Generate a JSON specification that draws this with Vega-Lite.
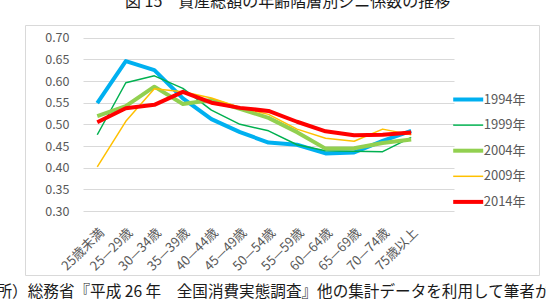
{
  "$schema": "https://vega.github.io/schema/vega-lite/v6.json",
  "width": 514,
  "height": 250,
  "autosize": {"type": "none"},
  "padding": {"left": 25, "top": 25, "right": 7, "bottom": 31},
  "background": "white",
  "config": {"view": {"stroke": "#d9d9d9", "strokeWidth": 1}},
  "title": {
    "text": "図 15　資産総額の年齢階層別ジニ係数の推移",
    "anchor": "start",
    "frame": "group",
    "dx": 100,
    "offset": 15,
    "font": "Noto Sans CJK JP",
    "fontSize": 16,
    "fontWeight": "normal",
    "color": "#1a1a1a"
  },
  "data": {
    "values": [
      {"year": "1994年", "age": "25歳未満", "gini": 0.549},
      {"year": "1994年", "age": "25—29歳", "gini": 0.646},
      {"year": "1994年", "age": "30—34歳", "gini": 0.625},
      {"year": "1994年", "age": "35—39歳", "gini": 0.560},
      {"year": "1994年", "age": "40—44歳", "gini": 0.512},
      {"year": "1994年", "age": "45—49歳", "gini": 0.482},
      {"year": "1994年", "age": "50—54歳", "gini": 0.458},
      {"year": "1994年", "age": "55—59歳", "gini": 0.453},
      {"year": "1994年", "age": "60—64歳", "gini": 0.433},
      {"year": "1994年", "age": "65—69歳", "gini": 0.435},
      {"year": "1994年", "age": "70—74歳", "gini": 0.462},
      {"year": "1994年", "age": "75歳以上", "gini": 0.485},
      {"year": "1999年", "age": "25歳未満", "gini": 0.476},
      {"year": "1999年", "age": "25—29歳", "gini": 0.596},
      {"year": "1999年", "age": "30—34歳", "gini": 0.612},
      {"year": "1999年", "age": "35—39歳", "gini": 0.583},
      {"year": "1999年", "age": "40—44歳", "gini": 0.533},
      {"year": "1999年", "age": "45—49歳", "gini": 0.500},
      {"year": "1999年", "age": "50—54歳", "gini": 0.485},
      {"year": "1999年", "age": "55—59歳", "gini": 0.453},
      {"year": "1999年", "age": "60—64歳", "gini": 0.439},
      {"year": "1999年", "age": "65—69歳", "gini": 0.438},
      {"year": "1999年", "age": "70—74歳", "gini": 0.437},
      {"year": "1999年", "age": "75歳以上", "gini": 0.470},
      {"year": "2004年", "age": "25歳未満", "gini": 0.519},
      {"year": "2004年", "age": "25—29歳", "gini": 0.542},
      {"year": "2004年", "age": "30—34歳", "gini": 0.587},
      {"year": "2004年", "age": "35—39歳", "gini": 0.547},
      {"year": "2004年", "age": "40—44歳", "gini": 0.556},
      {"year": "2004年", "age": "45—49歳", "gini": 0.536},
      {"year": "2004年", "age": "50—54歳", "gini": 0.515},
      {"year": "2004年", "age": "55—59歳", "gini": 0.482},
      {"year": "2004年", "age": "60—64歳", "gini": 0.444},
      {"year": "2004年", "age": "65—69歳", "gini": 0.445},
      {"year": "2004年", "age": "70—74歳", "gini": 0.457},
      {"year": "2004年", "age": "75歳以上", "gini": 0.465},
      {"year": "2009年", "age": "25歳未満", "gini": 0.402},
      {"year": "2009年", "age": "25—29歳", "gini": 0.507},
      {"year": "2009年", "age": "30—34歳", "gini": 0.582},
      {"year": "2009年", "age": "35—39歳", "gini": 0.575},
      {"year": "2009年", "age": "40—44歳", "gini": 0.561},
      {"year": "2009年", "age": "45—49歳", "gini": 0.539},
      {"year": "2009年", "age": "50—54歳", "gini": 0.523},
      {"year": "2009年", "age": "55—59歳", "gini": 0.489},
      {"year": "2009年", "age": "60—64歳", "gini": 0.468},
      {"year": "2009年", "age": "65—69歳", "gini": 0.461},
      {"year": "2009年", "age": "70—74歳", "gini": 0.489},
      {"year": "2009年", "age": "75歳以上", "gini": 0.476},
      {"year": "2014年", "age": "25歳未満", "gini": 0.505},
      {"year": "2014年", "age": "25—29歳", "gini": 0.537},
      {"year": "2014年", "age": "30—34歳", "gini": 0.545},
      {"year": "2014年", "age": "35—39歳", "gini": 0.575},
      {"year": "2014年", "age": "40—44歳", "gini": 0.550},
      {"year": "2014年", "age": "45—49歳", "gini": 0.538},
      {"year": "2014年", "age": "50—54歳", "gini": 0.531},
      {"year": "2014年", "age": "55—59歳", "gini": 0.506},
      {"year": "2014年", "age": "60—64歳", "gini": 0.484},
      {"year": "2014年", "age": "65—69歳", "gini": 0.475},
      {"year": "2014年", "age": "70—74歳", "gini": 0.476},
      {"year": "2014年", "age": "75歳以上", "gini": 0.481}
    ]
  },
  "mark": {"type": "line", "strokeJoin": "round"},
  "encoding": {
    "x": {
      "field": "age",
      "type": "ordinal",
      "sort": null,
      "scale": {
        "domain": ["25歳未満", "25—29歳", "30—34歳", "35—39歳", "40—44歳", "45—49歳", "50—54歳", "55—59歳", "60—64歳", "65—69歳", "70—74歳", "75歳以上"],
        "range": [58, 429],
        "padding": 1,
        "align": 0.25
      },
      "axis": {
        "title": "所）総務省『平成 26 年　全国消費実態調査』他の集計データを利用して筆者が",
        "orient": "bottom",
        "offset": -64,
        "labelAngle": -45,
        "labelFont": "Noto Sans CJK JP",
        "labelFontSize": 13,
        "labelColor": "#595959",
        "labelPadding": 15,
        "ticks": false,
        "domain": false,
        "grid": false,
        "titleFont": "Noto Sans CJK JP",
        "titleFontSize": 15.6,
        "titleFontWeight": "normal",
        "titleColor": "#1a1a1a",
        "titleX": -29,
        "titleY": 85,
        "titleAlign": "left",
        "titleBaseline": "alphabetic"
      }
    },
    "y": {
      "field": "gini",
      "type": "quantitative",
      "scale": {"domain": [0.3, 0.7], "range": [186, 12.7], "nice": false, "zero": false},
      "axis": {
        "title": null,
        "values": [0.3, 0.35, 0.4, 0.45, 0.5, 0.55, 0.6, 0.65, 0.7],
        "format": ".2f",
        "offset": -58,
        "labelPadding": 14,
        "labelFont": "Noto Sans CJK JP",
        "labelFontSize": 12.5,
        "labelColor": "#595959",
        "ticks": false,
        "domain": false,
        "grid": true,
        "gridColor": "#d9d9d9",
        "gridWidth": 1
      }
    },
    "color": {
      "field": "year",
      "type": "nominal",
      "scale": {
        "domain": ["1994年", "1999年", "2004年", "2009年", "2014年"],
        "range": ["#00B0F0", "#00B050", "#92D050", "#FFC000", "#FF0000"]
      },
      "legend": {
        "title": null,
        "orient": "none",
        "legendX": 436.7,
        "legendY": 68,
        "gridAlign": "all",
        "symbolType": "stroke",
        "symbolSize": 900,
        "labelOffset": 9,
        "rowPadding": 8.6,
        "labelFont": "Noto Sans CJK JP",
        "labelFontSize": 13,
        "labelColor": "#595959",
        "encode": {
          "symbols": {
            "update": {
              "strokeWidth": {"signal": "datum.value === '1999年' || datum.value === '2009年' ? 1.5 : 4"}
            }
          }
        }
      }
    },
    "strokeWidth": {
      "condition": {"test": "datum.year === '1999年' || datum.year === '2009年'", "value": 1.5},
      "value": 4
    },
    "order": {"value": null}
  }
}
